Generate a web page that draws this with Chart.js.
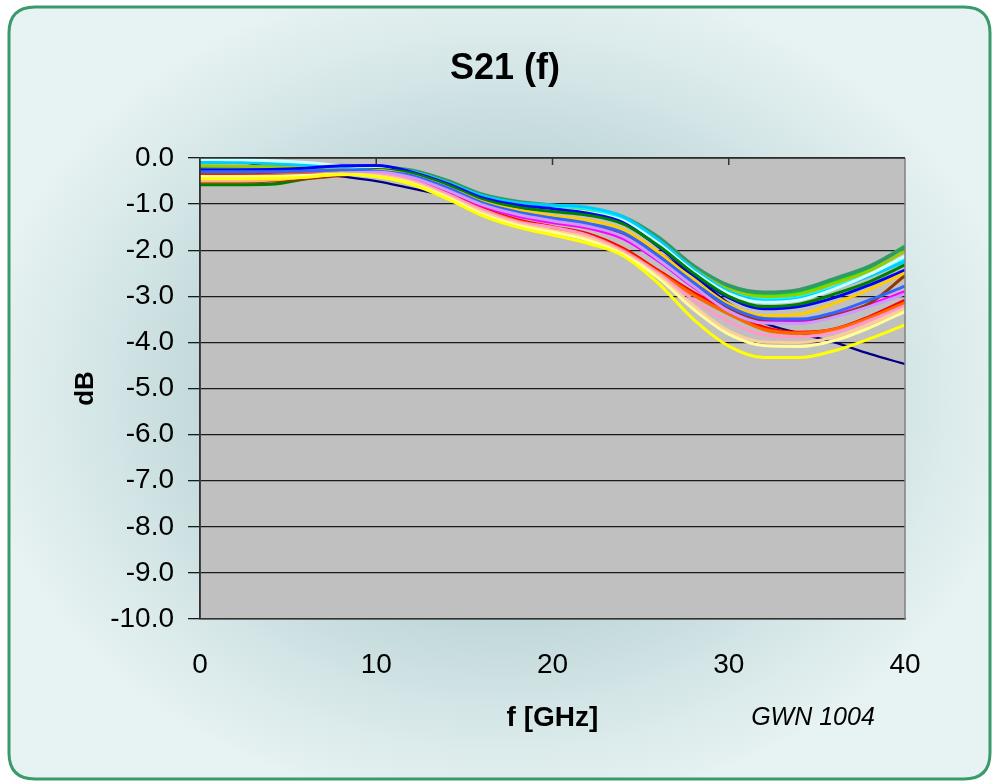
<!DOCTYPE html>
<html>
<head>
<meta charset="utf-8">
<script src="https://cdn.jsdelivr.net/npm/chart.js@4/dist/chart.umd.min.js"></script>
<style>
  html, body { margin: 0; padding: 0; background: #ffffff; }
  canvas { display: block; }
</style>
</head>
<body>
<canvas id="c" width="992" height="782"></canvas>
<script>
// Frequency points [GHz]
const freq = [0, 2, 4, 6, 8, 10, 12, 14, 16, 18, 20, 22, 24, 26, 28, 30, 32, 34, 36, 38, 40];

// Y axis tick values [dB]
const yTicks = [0, -1, -2, -3, -4, -5, -6, -7, -8, -9, -10];

// S21 traces [dB], one per measured sample
const seaGreen   = [-0.20,-0.20,-0.18,-0.16,-0.17,-0.20,-0.27,-0.49,-0.79,-0.95,-1.03,-1.10,-1.28,-1.72,-2.34,-2.77,-2.92,-2.86,-2.62,-2.35,-1.93];
const brightGreen= [-0.30,-0.30,-0.28,-0.22,-0.18,-0.19,-0.27,-0.51,-0.82,-0.98,-1.06,-1.13,-1.31,-1.76,-2.38,-2.82,-2.98,-2.92,-2.67,-2.38,-1.90];
const yellowGreen= [-0.17,-0.18,-0.19,-0.20,-0.20,-0.22,-0.30,-0.53,-0.83,-1.00,-1.08,-1.15,-1.33,-1.79,-2.40,-2.85,-3.01,-2.96,-2.72,-2.45,-2.02];
const cyan       = [-0.02,-0.03,-0.07,-0.12,-0.18,-0.22,-0.30,-0.54,-0.84,-0.99,-1.04,-1.10,-1.30,-1.80,-2.42,-2.90,-3.07,-3.02,-2.80,-2.53,-2.20];
const sky        = [-0.10,-0.10,-0.12,-0.15,-0.18,-0.21,-0.29,-0.53,-0.82,-0.97,-1.02,-1.07,-1.27,-1.78,-2.41,-2.90,-3.10,-3.05,-2.83,-2.56,-2.24];
const paleCyan   = [-0.03,-0.04,-0.06,-0.10,-0.16,-0.21,-0.31,-0.56,-0.87,-1.03,-1.10,-1.18,-1.36,-1.85,-2.46,-2.94,-3.13,-3.08,-2.84,-2.52,-2.13];
const darkGreen  = [-0.58,-0.58,-0.57,-0.45,-0.30,-0.25,-0.33,-0.58,-0.90,-1.07,-1.16,-1.24,-1.43,-1.90,-2.50,-3.00,-3.22,-3.17,-2.95,-2.68,-2.32];
const blue       = [-0.26,-0.26,-0.25,-0.22,-0.17,-0.16,-0.30,-0.55,-0.86,-1.02,-1.10,-1.20,-1.40,-1.92,-2.53,-3.03,-3.27,-3.22,-3.03,-2.75,-2.43];
const gold       = [-0.50,-0.50,-0.48,-0.40,-0.30,-0.27,-0.38,-0.63,-0.95,-1.13,-1.25,-1.35,-1.55,-2.04,-2.64,-3.17,-3.42,-3.39,-3.15,-2.85,-2.49];
const lightBlue  = [-0.30,-0.30,-0.30,-0.28,-0.26,-0.28,-0.38,-0.64,-0.97,-1.17,-1.30,-1.42,-1.62,-2.12,-2.70,-3.22,-3.48,-3.50,-3.35,-3.08,-2.78];
const brown      = [-0.52,-0.52,-0.50,-0.45,-0.38,-0.32,-0.40,-0.66,-0.98,-1.18,-1.33,-1.43,-1.63,-2.12,-2.72,-3.25,-3.50,-3.50,-3.42,-3.15,-2.55];
const magenta    = [-0.46,-0.46,-0.44,-0.38,-0.33,-0.30,-0.42,-0.70,-1.03,-1.26,-1.40,-1.52,-1.75,-2.23,-2.80,-3.30,-3.53,-3.54,-3.40,-3.18,-2.90];
const lavender   = [-0.42,-0.42,-0.42,-0.38,-0.33,-0.31,-0.42,-0.69,-1.01,-1.22,-1.36,-1.48,-1.70,-2.20,-2.78,-3.32,-3.58,-3.59,-3.45,-3.22,-2.95];
const pink       = [-0.48,-0.48,-0.46,-0.42,-0.36,-0.36,-0.48,-0.78,-1.12,-1.38,-1.50,-1.68,-2.02,-2.50,-3.08,-3.55,-3.84,-3.88,-3.78,-3.52,-3.20];
const tan        = [-0.45,-0.45,-0.44,-0.40,-0.35,-0.38,-0.52,-0.82,-1.17,-1.42,-1.57,-1.73,-2.06,-2.55,-3.20,-3.75,-3.99,-4.00,-3.88,-3.60,-3.26];
const paleYellow = [-0.40,-0.40,-0.40,-0.38,-0.35,-0.40,-0.55,-0.85,-1.21,-1.46,-1.61,-1.78,-2.09,-2.60,-3.28,-3.82,-4.07,-4.09,-3.96,-3.68,-3.33];
const yellow     = [-0.45,-0.45,-0.44,-0.42,-0.35,-0.40,-0.57,-0.88,-1.25,-1.50,-1.67,-1.85,-2.12,-2.72,-3.50,-4.08,-4.33,-4.33,-4.18,-3.92,-3.62];
const orangeRed  = [-0.40,-0.40,-0.38,-0.34,-0.32,-0.35,-0.48,-0.78,-1.12,-1.37,-1.52,-1.68,-2.00,-2.48,-2.97,-3.38,-3.72,-3.80,-3.72,-3.47,-3.14];
const red        = [-0.35,-0.35,-0.33,-0.30,-0.30,-0.34,-0.47,-0.76,-1.10,-1.35,-1.50,-1.65,-1.97,-2.45,-2.93,-3.33,-3.68,-3.79,-3.72,-3.45,-3.10];
const navy       = [-0.08,-0.08,-0.20,-0.30,-0.40,-0.50,-0.66,-0.82,-1.02,-1.18,-1.30,-1.45,-1.65,-2.05,-2.55,-3.15,-3.58,-3.80,-4.00,-4.25,-4.47];

const traces = [
  { name: 'yellow',      data: yellow,      color: '#FFFF00', width: 3 },
  { name: 'paleYellow',  data: paleYellow,  color: '#FFFF99', width: 3 },
  { name: 'tan',         data: tan,         color: '#FFCC99', width: 3 },
  { name: 'pink',        data: pink,        color: '#FF99CC', width: 3 },
  { name: 'lavender',    data: lavender,    color: '#CC99FF', width: 3 },
  { name: 'lightBlue',   data: lightBlue,   color: '#3366FF', width: 3 },
  { name: 'gold',        data: gold,        color: '#FFCC00', width: 3 },
  { name: 'brown',       data: brown,       color: '#993300', width: 3 },
  { name: 'magenta',     data: magenta,     color: '#FF00FF', width: 3 },
  { name: 'darkGreen',   data: darkGreen,   color: '#008000', width: 3 },
  { name: 'blue',        data: blue,        color: '#0000FF', width: 3 },
  { name: 'paleCyan',    data: paleCyan,    color: '#CCFFFF', width: 3 },
  { name: 'sky',         data: sky,         color: '#00CCFF', width: 3 },
  { name: 'cyan',        data: cyan,        color: '#00FFFF', width: 3 },
  { name: 'yellowGreen', data: yellowGreen, color: '#99CC00', width: 3 },
  { name: 'seaGreen',    data: seaGreen,    color: '#339966', width: 4 },
  { name: 'brightGreen', data: brightGreen, color: '#00FF00', width: 3 },
  { name: 'orangeRed',   data: orangeRed,   color: '#FF6600', width: 3.5 },
  { name: 'red',         data: red,         color: '#FF0000', width: 4 },
  { name: 'navy',        data: navy,        color: '#000080', width: 2.2 }
];

const datasets = traces.map(t => ({
  label: t.name,
  data: t.data.map((v, i) => ({ x: freq[i], y: v })),
  borderColor: t.color,
  backgroundColor: t.color,
  borderWidth: t.width,
  pointRadius: 0,
  fill: false,
  cubicInterpolationMode: 'monotone'
}));

// Panel background, plot area fill, frame and top tick marks
const decor = {
  id: 'decor',
  beforeDraw(chart) {
    const { ctx, chartArea: a } = chart;
    const W = chart.width, H = chart.height;
    ctx.save();
    // rounded panel with soft radial shading
    const x0 = 9, y0 = 7, x1 = 990, y1 = 779, r = 26;
    ctx.beginPath();
    ctx.moveTo(x0 + r, y0);
    ctx.lineTo(x1 - r, y0);
    ctx.quadraticCurveTo(x1, y0, x1, y0 + r);
    ctx.lineTo(x1, y1 - r);
    ctx.quadraticCurveTo(x1, y1, x1 - r, y1);
    ctx.lineTo(x0 + r, y1);
    ctx.quadraticCurveTo(x0, y1, x0, y1 - r);
    ctx.lineTo(x0, y0 + r);
    ctx.quadraticCurveTo(x0, y0, x0 + r, y0);
    ctx.closePath();
    ctx.save();
    ctx.clip();
    ctx.translate(W / 2 + 5, H / 2);
    ctx.scale(1.25, 1);
    const g = ctx.createRadialGradient(0, 0, 0, 0, 0, 420);
    g.addColorStop(0, '#A9C6C9');
    g.addColorStop(0.5, '#BCD4D6');
    g.addColorStop(0.75, '#D3E5E6');
    g.addColorStop(1, '#E7F2F2');
    ctx.fillStyle = g;
    ctx.fillRect(-W, -H, 2 * W, 2 * H);
    ctx.restore();
    ctx.lineWidth = 3;
    ctx.strokeStyle = '#3A9A6B';
    ctx.stroke();
    // plot area
    ctx.fillStyle = '#C0C0C0';
    ctx.fillRect(a.left, a.top, a.right - a.left, a.bottom - a.top);
    ctx.restore();
  },
  afterDatasetsDraw(chart) {
    const { ctx, chartArea: a, scales } = chart;
    ctx.save();
    ctx.strokeStyle = '#808080';
    ctx.lineWidth = 1.5;
    ctx.beginPath();
    ctx.moveTo(a.right, a.top);
    ctx.lineTo(a.right, a.bottom);
    ctx.stroke();
    ctx.strokeStyle = '#333333';
    ctx.lineWidth = 1.5;
    ctx.beginPath();
    ctx.moveTo(a.left, a.top);
    ctx.lineTo(a.right, a.top);
    ctx.moveTo(a.left, a.top);
    ctx.lineTo(a.left, a.bottom);
    // frequency axis runs along the 0 dB line, tick marks point inward
    for (let f = 10; f < 40; f += 10) {
      const px = scales.x.getPixelForValue(f);
      ctx.moveTo(px, a.top);
      ctx.lineTo(px, a.top + 7);
    }
    ctx.stroke();
    ctx.restore();
  },
  afterDraw(chart) {
    const { ctx } = chart;
    ctx.save();
    ctx.fillStyle = '#000';
    ctx.textAlign = 'center';
    ctx.textBaseline = 'middle';
    ctx.font = 'bold 36px "Liberation Sans", Arial, sans-serif';
    ctx.fillText('S21 (f)', 505, 69);
    ctx.font = 'italic 25px "Liberation Sans", Arial, sans-serif';
    ctx.fillText('GWN 1004', 813, 718);
    ctx.restore();
  }
};

const font = '"Liberation Sans", Arial, sans-serif';

new Chart(document.getElementById('c'), {
  type: 'line',
  data: { datasets },
  options: {
    responsive: false,
    animation: false,
    devicePixelRatio: 1,
    layout: { padding: { top: 158, right: 87, left: 0, bottom: 0 } },
    plugins: {
      legend: { display: false },
      tooltip: { enabled: false },
      title: { display: false }
    },
    scales: {
      x: {
        type: 'linear',
        position: 'bottom',
        min: 0,
        max: 40,
        afterFit(s) { s.height = 163; },
        grid: { display: true, drawOnChartArea: false, drawTicks: false, color: '#333' },
        border: { display: true, color: '#333', width: 1.5 },
        ticks: {
          stepSize: 10,
          padding: 29,
          color: '#000',
          font: { family: font, size: 28 }
        },
        title: {
          display: true,
          text: 'f [GHz]',
          color: '#000',
          font: { family: font, size: 28, weight: 'bold' },
          padding: { top: 0, bottom: 47 }
        }
      },
      y: {
        type: 'linear',
        min: -10,
        max: 0,
        afterFit(s) { s.width = 200; },
        afterBuildTicks(s) { s.ticks = yTicks.map(v => ({ value: v })); },
        grid: { color: '#1a1a1a', lineWidth: 1.3, tickLength: 12, drawTicks: true },
        border: { display: true, color: '#333', width: 1.5 },
        ticks: {
          padding: 14,
          color: '#000',
          font: { family: font, size: 28 },
          callback: v => Number(v).toFixed(1)
        },
        title: {
          display: true,
          text: 'dB',
          color: '#000',
          font: { family: font, size: 26, weight: 'bold' },
          padding: { top: 70, bottom: 0 }
        }
      }
    }
  },
  plugins: [decor]
});
</script>
</body>
</html>
